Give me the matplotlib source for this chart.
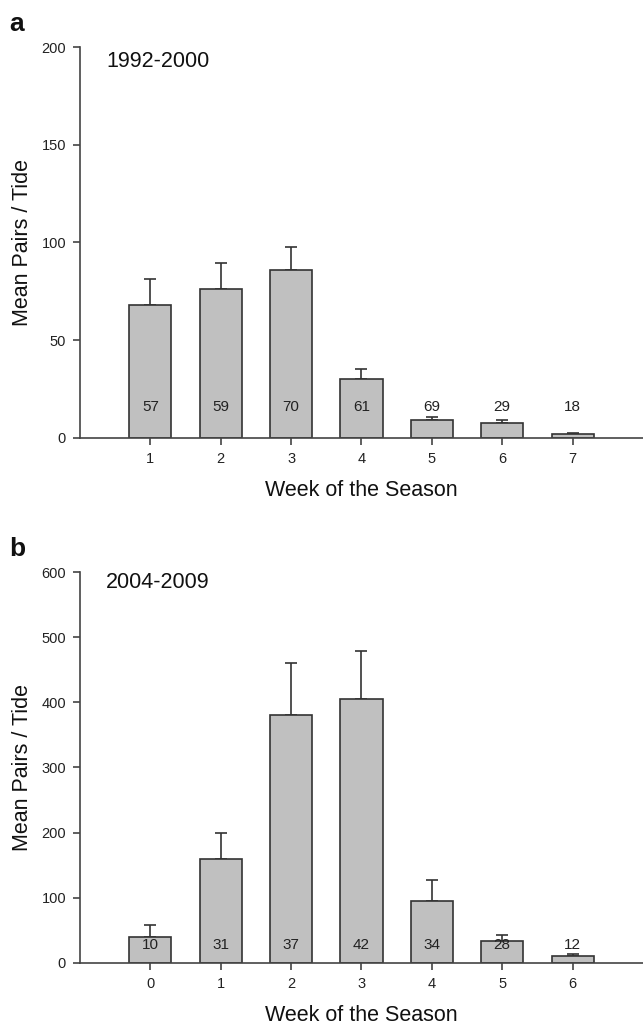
import numpy as np
import matplotlib
matplotlib.use("Agg")
import matplotlib.pyplot as plt

plt.rcParams['font.family'] = ['Liberation Sans', 'DejaVu Sans']

# panel a: 1992-2000
weeks_a = [1, 2, 3, 4, 5, 6, 7]
mean_a = [68.0, 76.2, 86.0, 30.2, 9.3, 7.5, 2.2]
err_a = [13.5, 13.5, 11.8, 5.3, 1.6, 1.5, 0.4]
n_a = [57, 59, 70, 61, 69, 29, 18]

# panel b: 2004-2009
weeks_b = [0, 1, 2, 3, 4, 5, 6]
mean_b = [40, 160, 381, 405, 95, 33, 10.5]
err_b = [19, 39, 80, 74, 33, 10, 3]
n_b = [10, 31, 37, 42, 34, 28, 12]

dark = '#333333'
bar_col = '#c0c0c0'

fig = plt.figure(figsize=(6.43, 10.24), dpi=100)
ax_a = fig.add_axes([0.1244, 0.5723, 0.8756, 0.3818])
ax_b = fig.add_axes([0.1244, 0.0596, 0.8756, 0.3818])


def draw_panel(ax, weeks, means, errs, ns, xlim, ylim, ystep, n_y, period, period_y, letter):
    ax.bar(weeks, means, width=0.6, color=bar_col, edgecolor=dark, linewidth=1.2, zorder=2)
    ax.errorbar(weeks, means, yerr=[np.zeros(len(errs)), errs], fmt='none',
                ecolor=dark, elinewidth=1.2, capsize=4.5, capthick=1.2, zorder=1)
    for x, n in zip(weeks, ns):
        ax.text(x, n_y, str(n), ha='center', va='center', fontsize=11, color='#222222', zorder=3)
    ax.set_xlim(*xlim)
    ax.set_ylim(*ylim)
    ax.set_xticks(weeks)
    ax.set_yticks(np.arange(ylim[0], ylim[1] + 1, ystep))
    for s in ['top', 'right']:
        ax.spines[s].set_visible(False)
    for s in ['left', 'bottom']:
        ax.spines[s].set_color('#444444')
        ax.spines[s].set_linewidth(1.2)
    ax.tick_params(direction='out', length=5, width=1.2, color='#444444',
                   labelsize=10.5, labelcolor='#222222', pad=5)
    ax.set_xlabel('Week of the Season', fontsize=15.5, color='#111111', labelpad=10)
    ax.set_ylabel('Mean Pairs / Tide', fontsize=15.5, color='#111111', labelpad=6)
    ax.text(0.046, period_y, period, transform=ax.transAxes, ha='left', va='center',
            fontsize=15.5, color='#111111')
    ax.text(-0.126, 1.041, letter, transform=ax.transAxes, ha='left', va='baseline',
            fontsize=19, fontweight='bold', color='#111111')


draw_panel(ax_a, weeks_a, mean_a, err_a, n_a, (0, 8), (0, 200), 50, 16,
           '1992-2000', 0.962, 'a')
draw_panel(ax_b, weeks_b, mean_b, err_b, n_b, (-1, 7), (0, 600), 100, 27.5,
           '2004-2009', 0.974, 'b')

fig.savefig('out.png', dpi=100)
